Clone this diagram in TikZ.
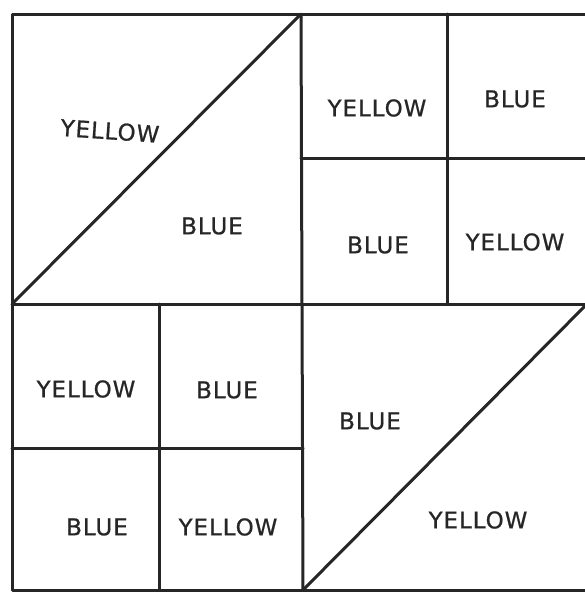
\documentclass[tikz,border=0pt]{standalone}
\usepackage{fontspec}
\setmainfont{DejaVu Sans}
\tikzset{
  seam/.style={line width=3pt, line cap=round, line join=round, black!85},
  lbl/.style={font=\fontsize{23}{25}\selectfont\addfontfeatures{FakeBold=0.8,LetterSpace=4}, inner sep=0pt, black!85}
}
\begin{document}
\begin{tikzpicture}[x=1pt,y=-1pt]
\useasboundingbox (0,0) rectangle (585,592);
% corners and seam points
\coordinate (TL) at (12,14);
\coordinate (TM) at (301,14);
\coordinate (TR) at (585,14);
\coordinate (ML) at (12,304);
\coordinate (MM) at (302,304);
\coordinate (MR) at (585,304);
\coordinate (BL) at (12,590);
\coordinate (BM) at (303,590);
\coordinate (BR) at (585,590);
\coordinate (Q1t) at (447,14);
\coordinate (Q1b) at (447,304);
\coordinate (Q1l) at (301,158);
\coordinate (Q1r) at (585,158);
\coordinate (Q3t) at (159,304);
\coordinate (Q3b) at (159,590);
\coordinate (Q3l) at (12,448);
\coordinate (Q3r) at (303,448);
\coordinate (D1a) at (13,303);
\coordinate (D1b) at (300,15);
\coordinate (D2a) at (305,588);
\coordinate (D2b) at (584,307);
% outer outline (right edge cropped)
\draw[seam] (TR) -- (TL) -- (BL) -- (BR);
\draw[seam] (TM) -- (MM) -- (BM);
\draw[seam] (ML) -- (MR);
\draw[seam] (Q1t) -- (Q1b);
\draw[seam] (Q1l) -- (Q1r);
\draw[seam] (Q3t) -- (Q3b);
\draw[seam] (Q3l) -- (Q3r);
\draw[seam] (D1a) -- (D1b);
\draw[seam] (D2a) -- (D2b);
% labels
\node[lbl, rotate=-4] (y1) at (110,131) {YELLOW};
\node[lbl] (b1) at (212,226) {BLUE};
\node[lbl] (y2) at (377,108) {YELLOW};
\node[lbl] (b2) at (515,99) {BLUE};
\node[lbl] (b3) at (378,245) {BLUE};
\node[lbl] (y3) at (515,242) {YELLOW};
\node[lbl] (y4) at (86,389) {YELLOW};
\node[lbl] (b4) at (227,390) {BLUE};
\node[lbl] (b5) at (370,421) {BLUE};
\node[lbl] (y5) at (478,520) {YELLOW};
\node[lbl] (b6) at (97,527) {BLUE};
\node[lbl] (y6) at (228,527) {YELLOW};
\end{tikzpicture}
\end{document}
